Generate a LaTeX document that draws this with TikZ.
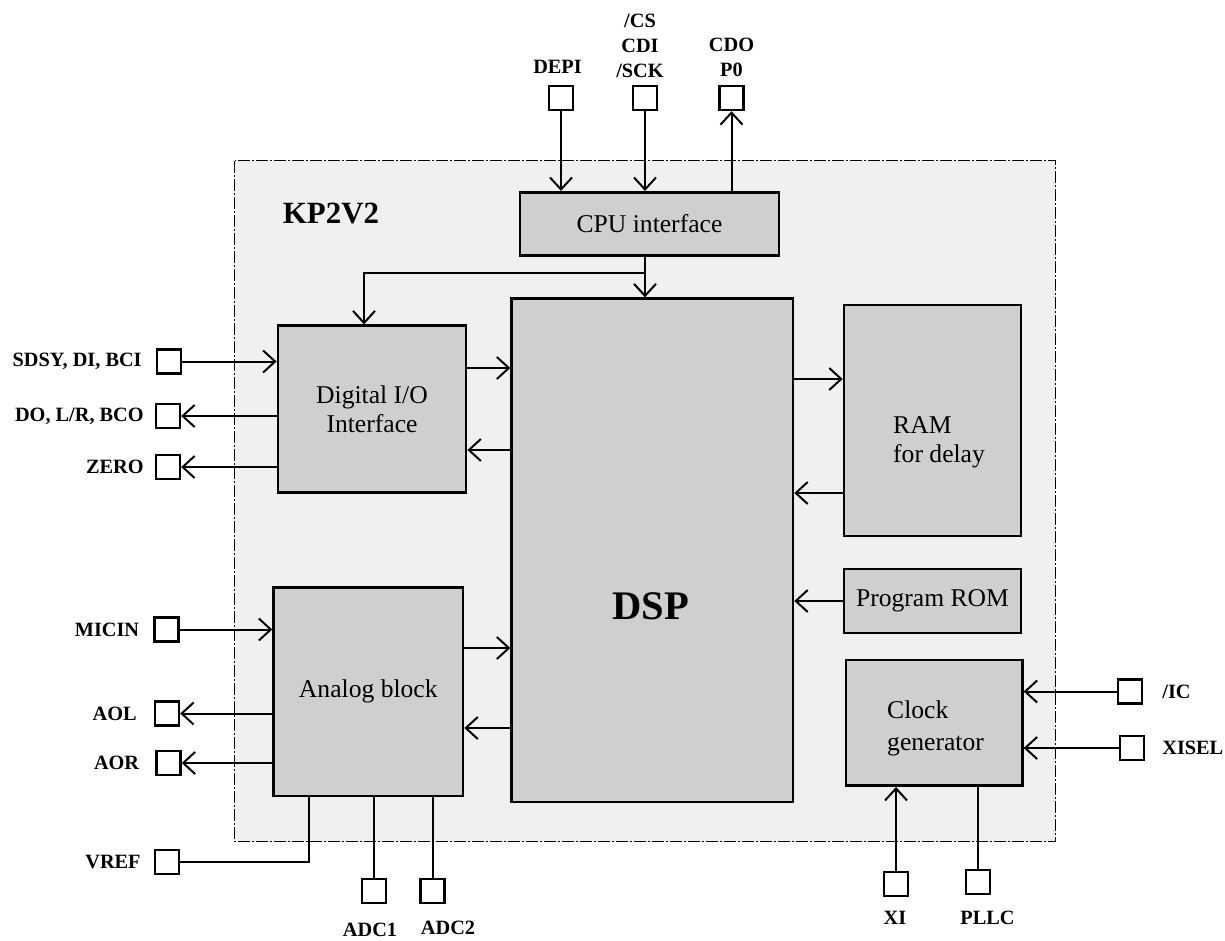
\documentclass[tikz,border=0pt]{standalone}
\usepackage{fontspec}
\setmainfont{Liberation Serif}
\usetikzlibrary{arrows.meta,positioning}
\definecolor{blockgray}{gray}{0.81}
\definecolor{chipgray}{gray}{0.94}
\tikzset{
  blk/.style={draw,line width=2.6pt,fill=blockgray,inner sep=0pt,
    font=\fontsize{25.6}{29}\selectfont,align=center},
  txt/.style={inner sep=0pt,font=\fontsize{25.6}{29}\selectfont},
  pin/.style={draw,line width=2.3pt,fill=white,minimum size=24pt,inner sep=0pt},
  pinlabel/.style={inner sep=0pt,font=\fontsize{20.3}{25}\selectfont\bfseries,align=center},
  arr/.style={line width=2pt,-{Straight Barb[length=12pt,width=22pt,line width=2pt]}},
  wire/.style={line width=2pt},
}
\begin{document}
\begin{tikzpicture}[x=1pt,y=-1pt]
  \useasboundingbox (0,0) rectangle (1225,940);
  % chip outline
  \draw[fill=chipgray,line width=1pt,dash pattern=on 12pt off 2pt on 2pt off 2pt]
    (234.5,160.7) rectangle (1055,841.7);
  \node[inner sep=0pt,font=\fontsize{30.9}{34}\selectfont\bfseries] (chip) at (331,213) {KP2V2};
  % blocks
  \node[blk,minimum width=259pt,minimum height=63.5pt] (cpu) at (649.5,224) {CPU interface};
  \node[blk,minimum width=281.3pt,minimum height=503.3pt] (dsp) at (652.3,550.3) {};
  \node[inner sep=0pt,font=\fontsize{40.6}{44}\selectfont\bfseries] (dsptxt) at (651,606) {DSP};
  \node[blk,minimum width=188.2pt,minimum height=167pt] (dio) at (372,409.2) {Digital I/O\\Interface};
  \node[blk,minimum width=177pt,minimum height=231pt] (ram) at (932.5,420.5) {};
  \node[txt,align=left,anchor=west] (ramtxt) at (893,442) {RAM\\for delay};
  \node[blk,minimum width=177pt,minimum height=63.7pt] (rom) at (932.5,601) {Program ROM};
  \node[blk,minimum width=189.4pt,minimum height=208.7pt] (ana) at (368.3,691.6) {Analog block};
  \node[blk,minimum width=176.3pt,minimum height=125.7pt] (clk) at (934.2,722.8) {};
  \node[txt,align=left,anchor=west,font=\fontsize{25.6}{32}\selectfont] (clktxt) at (887,728) {Clock\\generator};
  % pins
  \node[pin] (depi) at (561,98) {};
  \node[pin] (cdi) at (645,98) {};
  \node[pin] (cdo) at (731.5,98) {};
  \node[pinlabel] (depiT) at (557.5,67) {DEPI};
  \node[pinlabel] (cdiT) at (640,46) {/CS\\CDI\\/SCK};
  \node[pinlabel] (cdoT) at (731.5,57.5) {CDO\\P0};
  \node[pin] (sdsy) at (169,361.5) {};
  \node[pin] (dout) at (168,416) {};
  \node[pin] (zero) at (168,467) {};
  \node[pin] (micin) at (166.5,629.5) {};
  \node[pin] (aol) at (167,713.5) {};
  \node[pin] (aor) at (168.5,763) {};
  \node[pin] (vref) at (167,862) {};
  \node[pinlabel,left=14pt of sdsy] (sdsyT) {SDSY, DI, BCI};
  \node[pinlabel,left=11pt of dout] (doutT) {DO, L/R, BCO};
  \node[pinlabel,left=11pt of zero] (zeroT) {ZERO};
  \node[pinlabel,left=14pt of micin] (micinT) {MICIN};
  \node[pinlabel,left=17pt of aol] (aolT) {AOL};
  \node[pinlabel,left=16pt of aor] (aorT) {AOR};
  \node[pinlabel,left=13pt of vref] (vrefT) {VREF};
  \node[pin] (adc1) at (374,891) {};
  \node[pin] (adc2) at (432.5,891) {};
  \node[pinlabel] (adc1T) at (370,930) {ADC1};
  \node[pinlabel] (adc2T) at (448,928) {ADC2};
  \node[pin] (xi) at (896,884) {};
  \node[pin] (pllc) at (978,882) {};
  \node[pinlabel] (xiT) at (895,918) {XI};
  \node[pinlabel] (pllcT) at (987.5,918) {PLLC};
  \node[pin] (ic) at (1130,691.5) {};
  \node[pin] (xisel) at (1132,748) {};
  \node[pinlabel,right=19pt of ic] (icT) {/IC};
  \node[pinlabel,right=17pt of xisel] (xiselT) {XISEL};
  % CPU side
  \draw[arr] (depi.south) -- (depi |- cpu.north);
  \draw[arr] (cdi.south) -- (cdi |- cpu.north);
  \draw[arr] (cdo |- cpu.north) -- (cdo.south);
  \draw[arr] (cdi |- cpu.south) -- (cdi |- dsp.north);
  \coordinate (br) at (364,273);
  \draw[arr] (cdi |- br) -| (br |- dio.north);
  % digital I/O
  \draw[arr] (sdsy.east) -- (sdsy -| dio.west);
  \draw[arr] (dout -| dio.west) -- (dout.east);
  \draw[arr] (zero -| dio.west) -- (zero.east);
  \draw[arr] (dio.east |- 0,368) -- (dsp.west |- 0,368);
  \draw[arr] (dsp.west |- 0,450) -- (dio.east |- 0,450);
  % analog block
  \draw[arr] (micin.east) -- (micin -| ana.west);
  \draw[arr] (aol -| ana.west) -- (aol.east);
  \draw[arr] (aor -| ana.west) -- (aor.east);
  \draw[arr] (ana.east |- 0,648) -- (dsp.west |- 0,648);
  \draw[arr] (dsp.west |- 0,728) -- (ana.east |- 0,728);
  \draw[wire] (vref.east) -| ([xshift=37pt]ana.south west);
  \draw[wire] (adc1.north) -- (adc1 |- ana.south);
  \draw[wire] (adc2.north) -- (adc2 |- ana.south);
  % memories
  \draw[arr] (dsp.east |- 0,379) -- (ram.west |- 0,379);
  \draw[arr] (ram.west |- 0,493) -- (dsp.east |- 0,493);
  \draw[arr] (rom.west) -- (rom.west -| dsp.east);
  % clock
  \draw[arr] (ic.west) -- (ic -| clk.east);
  \draw[arr] (xisel.west) -- (xisel -| clk.east);
  \draw[arr] (xi.north) -- (xi |- clk.south);
  \draw[wire] (pllc |- clk.south) -- (pllc.north);
\end{tikzpicture}
\end{document}
